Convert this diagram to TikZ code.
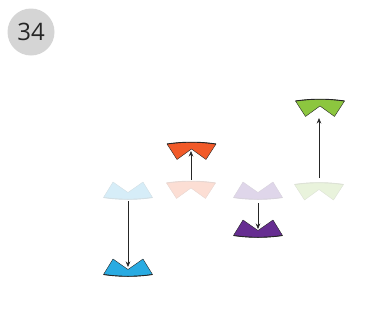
\documentclass[tikz,border=0pt]{standalone}
\usepackage{fontspec}
\newfontfamily\badgefont{Open Sans}
\usetikzlibrary{arrows.meta}
\definecolor{badgegray}{HTML}{D5D5D5}
\definecolor{cblue}{HTML}{29ABE2}
\definecolor{cbluef}{HTML}{D6EDF8}
\definecolor{corange}{HTML}{F15A29}
\definecolor{corangef}{HTML}{FCDED4}
\definecolor{cpurple}{HTML}{662D91}
\definecolor{cpurplef}{HTML}{DFD6EA}
\definecolor{cgreen}{HTML}{8CC63F}
\definecolor{cgreenf}{HTML}{E9F3DC}
\newcommand\upmark[4]{% cx, by, fill, edge
  \filldraw[fill=#3,draw=#4,line width=0.4pt,line join=round]
    (#1-24.5,#2) -- (#1-15,#2-15.5) -- (#1,#2-5) -- (#1+15,#2-15.5) -- (#1+24.5,#2)
    .. controls (#1+8,#2+2.4) and (#1-8,#2+2.4) .. cycle;
  \draw[draw=#4,line width=0.9pt] (#1+24.5,#2) .. controls (#1+8,#2+2.4) and (#1-8,#2+2.4) .. (#1-24.5,#2);}
\newcommand\downmark[4]{% cx, ty, fill, edge
  \filldraw[fill=#3,draw=#4,line width=0.4pt,line join=round]
    (#1-24.5,#2) -- (#1-14.5,#2+15.5) -- (#1,#2+5) -- (#1+14.5,#2+15.5) -- (#1+24.5,#2)
    .. controls (#1+8,#2-2.4) and (#1-8,#2-2.4) .. cycle;
  \draw[draw=#4,line width=0.9pt] (#1+24.5,#2) .. controls (#1+8,#2-2.4) and (#1-8,#2-2.4) .. (#1-24.5,#2);}
\tikzset{
  conn/.style={draw=black!85,line width=0.6pt,-{Stealth[length=5.5pt,width=4.5pt]}},
  badge/.style={circle,fill=badgegray,minimum size=47pt,inner sep=0pt,font=\badgefont\fontsize{24}{24}\selectfont,text=black!85}
}
\begin{document}
\begin{tikzpicture}[x=1pt,y=-1pt]
\useasboundingbox (0,0) rectangle (370,327);
\node[badge] (num) at (31,32) {34};
% faded source marks
\upmark{128}{197.5}{cbluef}{cbluef!85!black!60}
\downmark{191}{183}{corangef}{corangef!85!black!60}
\upmark{258}{197.5}{cpurplef}{cpurplef!85!black!60}
\downmark{319}{184.5}{cgreenf}{cgreenf!85!black!60}
% strong marks
\upmark{128}{274.5}{cblue}{black!85}
\downmark{191.5}{144}{corange}{black!85}
\upmark{258}{235.5}{cpurple}{black!85}
\downmark{320}{101}{cgreen}{black!85}
% connector end points
\coordinate (bs) at (128,201);
\coordinate (bt) at (128,267);
\coordinate (os) at (191,180);
\coordinate (ot) at (191,151);
\coordinate (ps) at (258,203);
\coordinate (pt) at (258,229);
\coordinate (gs) at (319,178);
\coordinate (gt) at (319,118);
\draw[conn] (bs) -- (bt);
\draw[conn] (os) -- (ot);
\draw[conn] (ps) -- (pt);
\draw[conn] (gs) -- (gt);
\end{tikzpicture}
\end{document}
